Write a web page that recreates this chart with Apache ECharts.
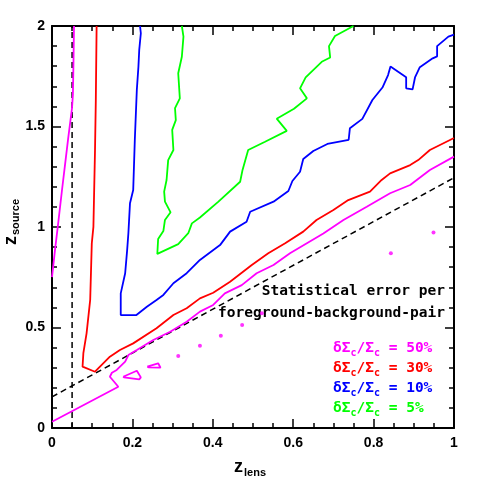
<!DOCTYPE html>
<html>
<head>
<meta charset="utf-8">
<script src="https://cdn.jsdelivr.net/npm/echarts@6/dist/echarts.min.js"></script>
<style>
html,body{margin:0;padding:0;background:#fff;}
#c{width:480px;height:480px;}
</style>
</head>
<body>
<div id="c"></div>
<script>
// ---- data (z_lens, z_source) ----
const magentaLeft = [[0.0547,2.0],[0.0535,1.83],[0.052,1.66],[0.0498,1.592],[0.0398,1.433],[0.0323,1.308],[0.0249,1.184],[0.0149,1.01],[0.0075,0.886],[0,0.751]];
const magentaLower = [[0,0.031],[0.165,0.205],[0.144,0.255],[0.149,0.275],[0.161,0.289],[0.182,0.330],[0.190,0.363],[0.211,0.388],[0.252,0.438],[0.294,0.479],[0.335,0.529],[0.368,0.579],[0.401,0.612],[0.430,0.670],[0.472,0.711],[0.509,0.770],[0.551,0.811],[0.592,0.869],[0.634,0.919],[0.675,0.968],[0.725,1.035],[0.783,1.101],[0.841,1.168],[0.891,1.209],[0.940,1.284],[1.0,1.350]];
const magentaLoop1 = [[0.177,0.255],[0.211,0.285],[0.221,0.252],[0.217,0.242],[0.179,0.252],[0.177,0.255]];
const magentaLoop2 = [[0.237,0.305],[0.264,0.322],[0.270,0.300],[0.240,0.302],[0.237,0.305]];
const magentaDots = [[0.314,0.358],[0.368,0.409],[0.420,0.459],[0.473,0.512],[0.522,0.571],[0.843,0.869],[0.949,0.973]];
const redContour = [[0.111,2.0],[0.109,1.632],[0.107,1.383],[0.103,1.001],[0.099,0.919],[0.095,0.637],[0.086,0.471],[0.078,0.372],[0.076,0.305],[0.107,0.280],[0.144,0.355],[0.169,0.388],[0.202,0.421],[0.260,0.496],[0.302,0.562],[0.335,0.596],[0.368,0.645],[0.401,0.673],[0.443,0.728],[0.497,0.811],[0.538,0.869],[0.580,0.919],[0.625,0.977],[0.658,1.035],[0.700,1.085],[0.737,1.134],[0.791,1.176],[0.820,1.234],[0.841,1.267],[0.891,1.308],[0.911,1.333],[0.940,1.383],[1.0,1.443]];
const blueContour = [[0.219,2.0],[0.221,1.964],[0.217,1.881],[0.215,1.798],[0.211,1.682],[0.206,1.433],[0.202,1.184],[0.194,1.118],[0.190,0.969],[0.187,0.886],[0.182,0.770],[0.171,0.670],[0.171,0.562],[0.210,0.562],[0.236,0.603],[0.260,0.637],[0.277,0.662],[0.302,0.720],[0.335,0.770],[0.368,0.836],[0.418,0.910],[0.443,0.977],[0.484,1.026],[0.493,1.076],[0.551,1.126],[0.588,1.179],[0.598,1.229],[0.617,1.275],[0.625,1.338],[0.650,1.378],[0.685,1.413],[0.738,1.434],[0.741,1.491],[0.772,1.538],[0.797,1.632],[0.822,1.694],[0.836,1.756],[0.842,1.798],[0.881,1.745],[0.881,1.690],[0.897,1.685],[0.903,1.744],[0.915,1.795],[0.947,1.839],[0.958,1.849],[0.958,1.900],[0.986,1.947],[1.0,1.957]];
const greenContour = [[0.323,2.0],[0.327,1.947],[0.323,1.847],[0.314,1.765],[0.318,1.640],[0.306,1.591],[0.308,1.532],[0.299,1.483],[0.302,1.383],[0.289,1.333],[0.285,1.234],[0.279,1.176],[0.281,1.126],[0.295,1.073],[0.281,1.035],[0.277,0.980],[0.264,0.940],[0.262,0.866],[0.314,0.915],[0.339,0.969],[0.348,1.018],[0.368,1.047],[0.414,1.126],[0.468,1.225],[0.474,1.284],[0.488,1.383],[0.530,1.424],[0.584,1.478],[0.559,1.539],[0.602,1.588],[0.634,1.640],[0.617,1.690],[0.631,1.744],[0.671,1.822],[0.692,1.843],[0.689,1.900],[0.704,1.950],[0.750,2.0]];
const dashedVertical = [[0.05,0],[0.05,2]];
const dashedDiagonal = [[0,0.155],[1,1.245]];
const legendLabels = ['50%','30%','10%','5%'];
const legendColors = ['#ff00ff','#ff0000','#0000ff','#00ff00'];

const chart = echarts.init(document.getElementById('c'), null, {renderer:'canvas'});
const LBL = {fontFamily:'Liberation Sans', fontWeight:'bold', fontSize:14, color:'#000'};
function xAx(pos, show){
  return {type:'value', position:pos, min:0, max:1, interval:0.2,
    axisLine:{show:true, onZero:false, lineStyle:{color:'#000', width:2}},
    axisTick:{show:true, inside:true, length:9, lineStyle:{color:'#000', width:1.5}},
    minorTick:{show:true, splitNumber:4, length:5, lineStyle:{color:'#000', width:1.5}},
    splitLine:{show:false}, minorSplitLine:{show:false},
    axisLabel:Object.assign({show:show, margin:8}, LBL)};
}
function yAx(pos, show){
  return {type:'value', position:pos, min:0, max:2, interval:0.5,
    axisLine:{show:true, onZero:false, lineStyle:{color:'#000', width:2}},
    axisTick:{show:true, inside:true, length:9, lineStyle:{color:'#000', width:1.5}},
    minorTick:{show:true, splitNumber:5, length:5, lineStyle:{color:'#000', width:1.5}},
    splitLine:{show:false}, minorSplitLine:{show:false},
    axisLabel:Object.assign({show:show, margin:7}, LBL)};
}
function line(data, color, extra){
  return Object.assign({type:'line', data:data, showSymbol:false, symbol:'none', silent:true, animation:false,
    lineStyle:{color:color, width:1.8}, z:3}, extra||{});
}
const MONO = 'DejaVu Sans Mono';
const legendGraphics = legendLabels.map((lab,i)=>({
  type:'text', left:333, top: 339 + i*20,
  style:{
    text:'{m|δΣ}{s|c}{m|/Σ}{s|c}{m| = '+lab+'}',
    fill:legendColors[i],
    rich:{
      m:{fontFamily:MONO, fontWeight:'bold', fontSize:14.5, lineHeight:16, fill:legendColors[i]},
      s:{fontFamily:MONO, fontWeight:'bold', fontSize:10, lineHeight:10, padding:[9,0,0,0], fill:legendColors[i]}
    }
  }
}));
chart.setOption({
  animation:false,
  grid:{left:52, right:26, top:26, bottom:52, containLabel:false},
  xAxis:[xAx('bottom', true), xAx('top', false)],
  yAxis:[yAx('left', true), yAx('right', false)],
  series:[
    line(dashedVertical, '#000', {lineStyle:{color:'#000', width:1.5, type:[6,4]}, z:2}),
    line(dashedDiagonal, '#000', {lineStyle:{color:'#000', width:1.5, type:[6,4]}, z:2}),
    line(magentaLeft, '#ff00ff'),
    line(magentaLower, '#ff00ff'),
    line(magentaLoop1, '#ff00ff'),
    line(magentaLoop2, '#ff00ff'),
    {type:'scatter', data:magentaDots, symbol:'circle', symbolSize:4, itemStyle:{color:'#ff00ff'}, silent:true, animation:false, z:3},
    line(redContour, '#ff0000'),
    line(blueContour, '#0000ff'),
    line(greenContour, '#00ff00')
  ],
  graphic:[
    {type:'text', right:35, top:284, style:{text:'Statistical error per', fill:'#000', font:'bold 14.5px "DejaVu Sans Mono"'}},
    {type:'text', right:35, top:306, style:{text:'foreground-background-pair', fill:'#000', font:'bold 14.5px "DejaVu Sans Mono"'}},
    {type:'text', left:234, top:457, style:{text:'{m|z}{s|lens}', fill:'#000',
      rich:{m:{fontFamily:'Liberation Sans', fontWeight:'bold', fontSize:18, lineHeight:18, fill:'#000'},
            s:{fontFamily:'Liberation Sans', fontWeight:'bold', fontSize:11, lineHeight:11, padding:[10,0,0,1], fill:'#000'}}}},
    {type:'text', x:11, y:222, rotation:Math.PI/2, style:{text:'{m|z}{s|source}', fill:'#000', align:'center', verticalAlign:'middle',
      rich:{m:{fontFamily:'Liberation Sans', fontWeight:'bold', fontSize:18, lineHeight:18, fill:'#000'},
            s:{fontFamily:'Liberation Sans', fontWeight:'bold', fontSize:11, lineHeight:11, padding:[10,0,0,1], fill:'#000'}}}}
  ].concat(legendGraphics)
});
</script>
</body>
</html>
